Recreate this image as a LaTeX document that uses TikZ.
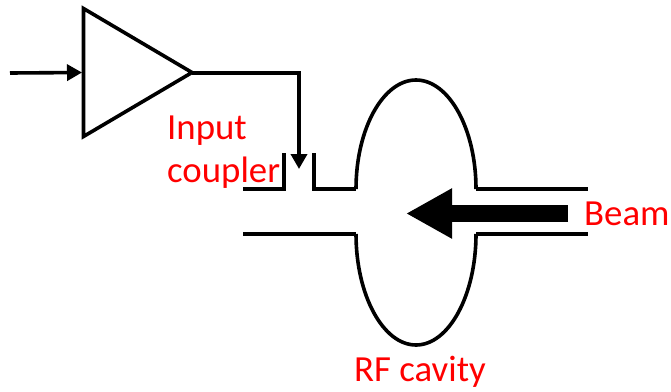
\documentclass[tikz,border=0pt]{standalone}
\usepackage{fontspec}
\setmainfont{Carlito}
\usepackage{xcolor}
\usetikzlibrary{arrows.meta}
\colorlet{labelred}{red}
\tikzstyle{wire}=[line width=3.6pt,black]
\tikzstyle{sig}=[wire,-{Triangle[length=15pt,width=16pt]}]
\tikzstyle{lab}=[text=labelred,font=\fontsize{36.8pt}{43pt}\selectfont,align=left,inner sep=0pt]
\begin{document}
\begin{tikzpicture}[x=1pt,y=-1pt]
	\useasboundingbox (0,0) rectangle (671,391);
	\coordinate (in) at (10,73);
	\coordinate (ampin) at (82,72.5);
	\coordinate (ampout) at (192,73);
	\coordinate (bend) at (299,73);
	\coordinate (tip) at (299,169);
	\coordinate (beamstart) at (568,213.5);
	\coordinate (beamend) at (406,213.5);
	\draw[wire] (83.5,8.5) -- (192,72.5) -- (83.5,136.5) -- cycle;
	\draw[sig] (in) -- (ampin);
	\draw[wire] (ampout) -- (bend) -- (299,155);
	\draw[sig] (299,150) -- (tip);
	% upper tube and coupler
	\draw[wire] (243,189) -- (284,189) -- (284,153);
	\draw[wire] (314,153) -- (314,189) -- (356,189);
	\draw[wire] (476,189) -- (588,189);
	\draw[wire] (243,234) -- (356,234);
	\draw[wire] (476,234) -- (588,234);
	% cavity
	\draw[wire] (356,189) .. controls (356,129) and (383,80) .. (416,80) .. controls (449,80) and (476,129) .. (476,189);
	\draw[wire] (356,234) .. controls (356,295) and (383,345) .. (416,345) .. controls (449,345) and (476,295) .. (476,234);
	\draw[line width=17pt,-{Triangle[length=46pt,width=47pt]}] (beamstart) -- (beamend);
	\node[lab,anchor=base west] (coupler) at (167,182) {Input\\coupler};
	\node[lab,anchor=base west] (beam) at (584,225) {Beam};
	\node[lab,anchor=base] (cavity) at (420,381.5) {RF cavity};
\end{tikzpicture}
\end{document}
